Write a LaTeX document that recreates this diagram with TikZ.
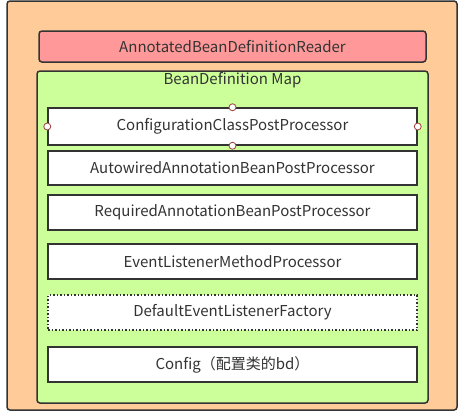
\documentclass[tikz,border=0pt]{standalone}
\usepackage{fontspec}
\setmainfont{Noto Sans CJK SC}
\definecolor{orangefond}{HTML}{FFCC99}
\definecolor{rougefond}{HTML}{FF9999}
\definecolor{vertfond}{HTML}{CCFF99}
\definecolor{trait}{HTML}{333333}
\definecolor{poignee}{HTML}{A04040}
\tikzset{
  boite/.style={draw=trait,line width=1.5pt,rounded corners=3pt,inner sep=0pt,text=trait},
  ligne/.style={boite,fill=white,rounded corners=0pt,minimum width=369pt,minimum height=35pt,font=\fontsize{15}{17}\selectfont},
  poing/.style={circle,draw=poignee,fill=white,line width=0.8pt,minimum size=7pt,inner sep=0pt}
}
\begin{document}
\begin{tikzpicture}[x=1pt,y=-1pt]
\useasboundingbox (0,0) rectangle (470,416);
\fill[white] (0,0) rectangle (470,416);

%le cadre
\node [boite,fill=orangefond,minimum width=450pt,minimum height=409pt] (cadre) at (232,205.5) {};
\node [boite,fill=rougefond,minimum width=387pt,minimum height=31pt,font=\fontsize{15}{17}\selectfont] (lecteur) at (232.5,46.5) {AnnotatedBeanDefinitionReader};
\node [boite,fill=vertfond,minimum width=391pt,minimum height=332pt] (carte) at (232.5,237) {};
\node [text=trait,font=\fontsize{15}{17}\selectfont] (titre) at (232.5,80) {BeanDefinition Map};

%les definitions
\node [ligne,minimum height=37pt] (config) at (232.5,126.5) {ConfigurationClassPostProcessor};
\node [ligne,minimum height=34pt] (autowired) at (232.5,168) {AutowiredAnnotationBeanPostProcessor};
\node [ligne] (required) at (232.5,212.5) {RequiredAnnotationBeanPostProcessor};
\node [ligne] (event) at (232.5,261.5) {EventListenerMethodProcessor};
\node [ligne,dotted] (factory) at (232.5,312.5) {DefaultEventListenerFactory};
\node [ligne] (bd) at (232.5,364.5) {Config（配置类的bd）};

%les poignees
\foreach \a in {north,south,east,west}
  \node [poing] (p-\a) at (config.\a) {};

\end{tikzpicture}
\end{document}
